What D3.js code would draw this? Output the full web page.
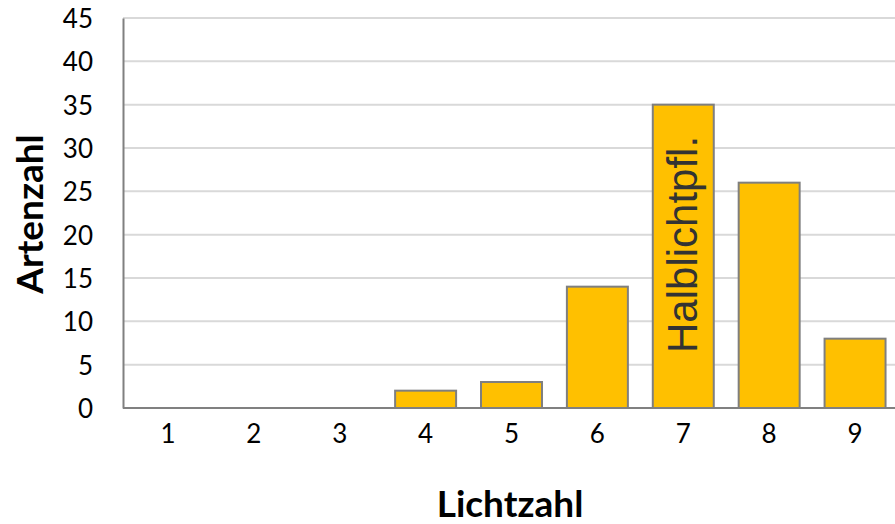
<!DOCTYPE html>
<html>
<head>
<meta charset="utf-8">
<script src="https://cdn.jsdelivr.net/npm/d3@7"></script>
<style>
  html, body { margin: 0; padding: 0; background: #ffffff; }
  svg { display: block; }
</style>
</head>
<body>
<svg id="chart" width="895" height="524"></svg>
<script>
const categories = ["1", "2", "3", "4", "5", "6", "7", "8", "9"];
const artenzahl = [0, 0, 0, 2, 3, 14, 35, 26, 8];
const yTicks = [0, 5, 10, 15, 20, 25, 30, 35, 40, 45];
const xTitle = "Lichtzahl";
const yTitle = "Artenzahl";
const barAnnotation = { category: "7", text: "Halblichtpfl." };

(function () {
const svg = d3.select("#chart");
const pLeft = 123, pRight = 898, pTop = 18, pBottom = 408;

const x = d3.scaleBand().domain(categories).range([pLeft + 2, pRight])
  .paddingInner(0.29).paddingOuter(0.145);
const y = d3.scaleLinear().domain([0, 45]).range([pBottom, pTop]);

// gridlines
svg.append("g").selectAll("line").data(yTicks.filter(t => t > 0)).join("line")
  .attr("x1", pLeft).attr("x2", 895)
  .attr("y1", d => y(d)).attr("y2", d => y(d))
  .attr("stroke", "#d9d9d9").attr("stroke-width", 2);

// bars
svg.append("g").selectAll("rect").data(categories.map((c, i) => ({ c, v: artenzahl[i] })).filter(d => d.v > 0))
  .join("rect")
  .attr("x", d => x(d.c)).attr("width", x.bandwidth())
  .attr("y", d => y(d.v)).attr("height", d => y(0) - y(d.v))
  .attr("fill", "#ffc000").attr("stroke", "#7f7f7f").attr("stroke-width", 2);

// axes
const yAxis = d3.axisLeft(y).tickValues(yTicks).tickSize(0).tickPadding(30);
const gy = svg.append("g").attr("transform", `translate(${pLeft},0)`).call(yAxis);
gy.select(".domain").attr("stroke", "#808080").attr("stroke-width", 2);
gy.selectAll("text").attr("font-family", "Lato, sans-serif").attr("font-size", 26)
  .attr("fill", "#000").attr("dy", "0.36em");

const xAxis = d3.axisBottom(x).tickSize(0).tickPadding(30);
const gx = svg.append("g").attr("transform", `translate(0,${pBottom})`).call(xAxis);
gx.select(".domain").attr("stroke", "#808080").attr("stroke-width", 2)
  .attr("d", `M${pLeft},0H895`);
gx.selectAll("text").attr("font-family", "Lato, sans-serif").attr("font-size", 26)
  .attr("fill", "#000").attr("dy", "0.2em");

// annotation inside bar 7
const ax = x(barAnnotation.category) + x.bandwidth() / 2;
svg.append("text")
  .attr("transform", `translate(${ax + 14},353) rotate(-90)`)
  .attr("font-family", "'Liberation Sans', Arial, sans-serif")
  .attr("font-size", 42).attr("fill", "#333333")
  .attr("text-anchor", "start")
  .text(barAnnotation.text);

// axis titles
svg.append("text")
  .attr("transform", `translate(43,214) rotate(-90)`)
  .attr("text-anchor", "middle")
  .attr("font-family", "Lato, sans-serif").attr("font-weight", "bold")
  .attr("font-size", 37).attr("fill", "#000")
  .text(yTitle);

svg.append("text")
  .attr("x", (pLeft + 895) / 2 + 1).attr("y", 517)
  .attr("text-anchor", "middle")
  .attr("font-family", "Lato, sans-serif").attr("font-weight", "bold")
  .attr("font-size", 37).attr("fill", "#000")
  .text(xTitle);
})();
</script>
</body>
</html>
